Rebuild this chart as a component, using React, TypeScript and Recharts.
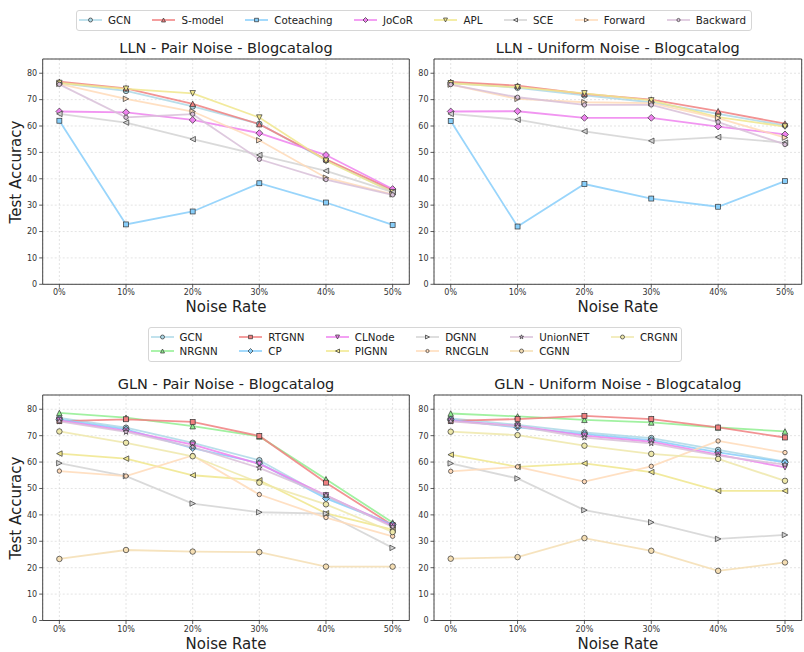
import React from "react";
import { LineChart, Line, XAxis, YAxis, CartesianGrid, ReferenceArea } from "recharts";

// x positions are the noise-rate index, labelled through NOISE_RATES
const NOISE_RATES = ["0%", "10%", "20%", "30%", "40%", "50%"];
const X_TICKS = [0, 1, 2, 3, 4, 5];
const Y_TICKS = [0, 10, 20, 30, 40, 50, 60, 70, 80];
const Y_MAX = 85.4;

// ---- LLN - Pair Noise
const llnPairGCN = [76.3, 73.3, 67.4, 60.8, 47.0, 35.1];
const llnPairSModel = [76.8, 74.3, 68.4, 60.7, 47.4, 35.8];
const llnPairCoteaching = [62.0, 22.7, 27.6, 38.3, 31.0, 22.5];
const llnPairJoCoR = [65.5, 65.2, 62.3, 57.3, 49.0, 36.1];
const llnPairAPL = [76.3, 74.1, 72.4, 63.2, 46.8, 34.9];
const llnPairSCE = [64.6, 61.3, 55.0, 49.0, 43.0, 34.9];
const llnPairForward = [76.0, 70.3, 65.5, 54.6, 40.4, 34.1];
const llnPairBackward = [75.8, 63.3, 64.5, 47.4, 39.7, 33.9];

// ---- LLN - Uniform Noise
const llnUniGCN = [76.3, 74.5, 71.6, 69.0, 64.6, 60.2];
const llnUniSModel = [76.7, 75.3, 72.2, 70.0, 65.6, 60.9];
const llnUniCoteaching = [61.9, 21.9, 38.0, 32.5, 29.4, 39.1];
const llnUniJoCoR = [65.5, 65.6, 63.1, 63.1, 59.8, 56.8];
const llnUniAPL = [76.2, 74.7, 72.4, 69.7, 63.4, 59.8];
const llnUniSCE = [64.6, 62.4, 58.0, 54.4, 55.8, 53.7];
const llnUniForward = [75.7, 70.3, 69.0, 68.7, 63.0, 55.6];
const llnUniBackward = [75.7, 70.9, 68.0, 68.0, 61.5, 53.0];

// ---- GLN - Pair Noise
const glnPairGCN = [76.7, 73.0, 67.3, 60.7, 46.8, 36.3];
const glnPairNRGNN = [78.6, 76.8, 73.6, 69.7, 53.5, 37.1];
const glnPairRTGNN = [75.5, 76.2, 75.2, 69.9, 52.2, 36.1];
const glnPairCP = [76.2, 72.4, 65.3, 59.6, 46.2, 36.3];
const glnPairCLNode = [75.8, 71.8, 66.6, 59.3, 47.4, 35.8];
const glnPairPIGNN = [63.2, 61.3, 55.0, 53.1, 40.6, 34.4];
const glnPairDGNN = [59.6, 54.7, 44.3, 41.0, 40.5, 27.5];
const glnPairRNCGLN = [56.6, 54.7, 62.5, 47.7, 39.0, 31.9];
const glnPairUnionNET = [75.4, 71.4, 65.7, 57.8, 47.4, 35.4];
const glnPairCGNN = [23.3, 26.7, 26.1, 25.9, 20.4, 20.4];
const glnPairCRGNN = [71.6, 67.3, 62.2, 52.2, 44.0, 33.5];

// ---- GLN - Uniform Noise
const glnUniGCN = [76.5, 74.1, 71.2, 69.1, 64.6, 60.2];
const glnUniNRGNN = [78.4, 77.3, 76.0, 75.0, 73.1, 71.6];
const glnUniRTGNN = [75.6, 76.3, 77.5, 76.3, 73.1, 69.3];
const glnUniCP = [76.0, 73.1, 70.6, 68.3, 63.7, 59.9];
const glnUniCLNode = [75.6, 73.7, 70.0, 67.7, 62.8, 58.0];
const glnUniPIGNN = [62.8, 58.2, 59.5, 56.2, 49.1, 49.1];
const glnUniDGNN = [59.5, 53.8, 41.8, 37.2, 30.9, 32.4];
const glnUniRNCGLN = [56.5, 58.2, 52.6, 58.4, 68.0, 63.6];
const glnUniUnionNET = [75.4, 73.5, 69.3, 67.1, 62.4, 59.0];
const glnUniCGNN = [23.4, 24.0, 31.2, 26.4, 18.8, 22.0];
const glnUniCRGNN = [71.5, 70.2, 66.2, 63.1, 61.2, 52.9];

type Shape =
  | "circle"
  | "small"
  | "square"
  | "diamond"
  | "triUp"
  | "triDown"
  | "triLeft"
  | "triRight"
  | "star";

// matplotlib named colours, one marker per method
const METHOD_STYLE: Record<string, { color: string; shape: Shape }> = {
  GCN: { color: "#add8e6", shape: "circle" },
  "S-model": { color: "#f08080", shape: "triUp" },
  Coteaching: { color: "#87cefa", shape: "square" },
  JoCoR: { color: "#ee82ee", shape: "diamond" },
  APL: { color: "#f0e68c", shape: "triDown" },
  SCE: { color: "#d3d3d3", shape: "triLeft" },
  Forward: { color: "#ffdab9", shape: "triRight" },
  Backward: { color: "#d8bfd8", shape: "small" },
  NRGNN: { color: "#90ee90", shape: "triUp" },
  RTGNN: { color: "#f08080", shape: "square" },
  CP: { color: "#87cefa", shape: "diamond" },
  CLNode: { color: "#ee82ee", shape: "triDown" },
  PIGNN: { color: "#f0e68c", shape: "triLeft" },
  DGNN: { color: "#d3d3d3", shape: "triRight" },
  RNCGLN: { color: "#ffdab9", shape: "small" },
  UnionNET: { color: "#d8bfd8", shape: "star" },
  CGNN: { color: "#f5deb3", shape: "circle" },
  CRGNN: { color: "#eee8aa", shape: "circle" },
};

type Series = [string, number[]];

const LLN_PAIR: Series[] = [
  ["GCN", llnPairGCN],
  ["S-model", llnPairSModel],
  ["Coteaching", llnPairCoteaching],
  ["JoCoR", llnPairJoCoR],
  ["APL", llnPairAPL],
  ["SCE", llnPairSCE],
  ["Forward", llnPairForward],
  ["Backward", llnPairBackward],
];
const LLN_UNI: Series[] = [
  ["GCN", llnUniGCN],
  ["S-model", llnUniSModel],
  ["Coteaching", llnUniCoteaching],
  ["JoCoR", llnUniJoCoR],
  ["APL", llnUniAPL],
  ["SCE", llnUniSCE],
  ["Forward", llnUniForward],
  ["Backward", llnUniBackward],
];
const GLN_PAIR: Series[] = [
  ["GCN", glnPairGCN],
  ["NRGNN", glnPairNRGNN],
  ["RTGNN", glnPairRTGNN],
  ["CP", glnPairCP],
  ["CLNode", glnPairCLNode],
  ["PIGNN", glnPairPIGNN],
  ["DGNN", glnPairDGNN],
  ["RNCGLN", glnPairRNCGLN],
  ["UnionNET", glnPairUnionNET],
  ["CGNN", glnPairCGNN],
  ["CRGNN", glnPairCRGNN],
];
const GLN_UNI: Series[] = [
  ["GCN", glnUniGCN],
  ["NRGNN", glnUniNRGNN],
  ["RTGNN", glnUniRTGNN],
  ["CP", glnUniCP],
  ["CLNode", glnUniCLNode],
  ["PIGNN", glnUniPIGNN],
  ["DGNN", glnUniDGNN],
  ["RNCGLN", glnUniRNCGLN],
  ["UnionNET", glnUniUnionNET],
  ["CGNN", glnUniCGNN],
  ["CRGNN", glnUniCRGNN],
];

const FONT = "'DejaVu Sans', sans-serif";
const EDGE = "#333";
const TEXT = "#222";

function Glyph({ shape, cx, cy, s, fill }: { shape: Shape; cx: number; cy: number; s: number; fill: string }) {
  const h = s / 2;
  const common = { fill, stroke: EDGE, strokeWidth: 0.7 };
  switch (shape) {
    case "circle":
      return <circle cx={cx} cy={cy} r={h} {...common} />;
    case "small":
      return <circle cx={cx} cy={cy} r={h * 0.8} {...common} />;
    case "square":
      return <rect x={cx - h * 0.9} y={cy - h * 0.9} width={s * 0.9} height={s * 0.9} {...common} />;
    case "diamond": {
      const d = h * 1.25;
      return <polygon points={`${cx},${cy - d} ${cx + d},${cy} ${cx},${cy + d} ${cx - d},${cy}`} {...common} />;
    }
    case "triUp":
      return <polygon points={`${cx},${cy - h} ${cx - h},${cy + h} ${cx + h},${cy + h}`} {...common} />;
    case "triDown":
      return <polygon points={`${cx},${cy + h} ${cx - h},${cy - h} ${cx + h},${cy - h}`} {...common} />;
    case "triLeft":
      return <polygon points={`${cx - h},${cy} ${cx + h},${cy - h} ${cx + h},${cy + h}`} {...common} />;
    case "triRight":
      return <polygon points={`${cx + h},${cy} ${cx - h},${cy - h} ${cx - h},${cy + h}`} {...common} />;
    case "star": {
      const pts: string[] = [];
      for (let k = 0; k < 10; k++) {
        const r = k % 2 === 0 ? h * 1.1 : h * 0.45;
        const a = -Math.PI / 2 + (k * Math.PI) / 5;
        pts.push(`${cx + r * Math.cos(a)},${cy + r * Math.sin(a)}`);
      }
      return <polygon points={pts.join(" ")} {...common} />;
    }
  }
  return null;
}

function buildRows(series: Series[]) {
  return X_TICKS.map((i) => {
    const row: Record<string, number> = { x: i };
    series.forEach(([name, vals]) => {
      row[name] = vals[i];
    });
    return row;
  });
}

interface PanelProps {
  title: string;
  series: Series[];
  left: number;
  top: number;
  width: number;
  height: number;
  margin: { top: number; right: number; bottom: number; left: number };
  yWidth: number;
  showYLabel: boolean;
}

function Panel({ title, series, left, top, width, height, margin, yWidth, showYLabel }: PanelProps) {
  const rows = buildRows(series);
  const plotLeft = left + margin.left + yWidth;
  const plotRight = left + width - margin.right;
  const plotTop = top + margin.top;
  const plotBottom = top + height - margin.bottom - 20;
  const cx = (plotLeft + plotRight) / 2;
  return (
    <>
      <div
        style={{
          position: "absolute",
          left: plotLeft - 100,
          width: plotRight - plotLeft + 200,
          top: plotTop - 19,
          textAlign: "center",
          fontSize: 14.5,
          lineHeight: "16px",
          color: TEXT,
        }}
      >
        {title}
      </div>
      <div
        style={{
          position: "absolute",
          left: cx - 100,
          width: 200,
          top: plotBottom + 15,
          textAlign: "center",
          fontSize: 15,
          lineHeight: "16px",
          color: TEXT,
        }}
      >
        Noise Rate
      </div>
      {showYLabel && (
        <div
          style={{
            position: "absolute",
            left: 16 - 100,
            width: 200,
            top: (plotTop + plotBottom) / 2 - 8,
            textAlign: "center",
            fontSize: 15,
            lineHeight: "16px",
            color: TEXT,
            transform: "rotate(-90deg)",
          }}
        >
          Test Accuracy
        </div>
      )}
      <div style={{ position: "absolute", left, top }}>
        <LineChart width={width} height={height} data={rows} margin={margin}>
          <CartesianGrid stroke="#d2d2d2" strokeWidth={0.6} strokeDasharray="2 2" />
          <XAxis
            dataKey="x"
            type="number"
            domain={[-0.25, 5.25]}
            ticks={X_TICKS}
            allowDataOverflow
            tickFormatter={(v) => NOISE_RATES[v] ?? ""}
            axisLine={false}
            tickLine={{ stroke: EDGE, strokeWidth: 0.8 }}
            tickSize={3.5}
            tickMargin={2}
            height={20}
            tick={{ fontSize: 8, fill: "#333" }}
          />
          <YAxis
            type="number"
            domain={[0, Y_MAX]}
            ticks={Y_TICKS}
            allowDataOverflow
            axisLine={false}
            tickLine={{ stroke: EDGE, strokeWidth: 0.8 }}
            tickSize={3.5}
            tickMargin={2}
            width={yWidth}
            tick={{ fontSize: 8, fill: "#333" }}
          />
          {series.map(([name]) => {
            const st = METHOD_STYLE[name];
            return (
              <Line
                key={name}
                type="linear"
                dataKey={name}
                stroke={st.color}
                strokeWidth={1.8}
                strokeOpacity={0.85}
                activeDot={false}
                isAnimationActive={false}
                dot={(p: any) => (
                  <g key={`${name}-${p.index}`}>
                    <Glyph shape={st.shape} cx={p.cx} cy={p.cy} s={5.5} fill={st.color} />
                  </g>
                )}
              />
            );
          })}
          <ReferenceArea
            x1={-0.25}
            x2={5.25}
            y1={0}
            y2={Y_MAX}
            fill="none"
            fillOpacity={0}
            stroke="#444"
            strokeWidth={1}
            ifOverflow="extendDomain"
          />
        </LineChart>
      </div>
    </>
  );
}

function LegendBox({
  names,
  left,
  top,
  width,
  height,
  rows,
}: {
  names: string[];
  left: number;
  top: number;
  width: number;
  height: number;
  rows: number;
}) {
  return (
    <div
      style={{
        position: "absolute",
        left,
        top,
        width,
        height,
        boxSizing: "border-box",
        border: "1px solid #d6d6d6",
        borderRadius: 3,
        background: "#fff",
        paddingLeft: 2,
        paddingTop: rows === 1 ? 1.5 : 2.5,
        display: "grid",
        gridTemplateRows: `repeat(${rows}, 14.3px)`,
        gridAutoFlow: "column",
        columnGap: 21.5,
        justifyContent: "start",
        fontSize: 10.3,
        color: TEXT,
      }}
    >
      {names.map((name) => {
        const st = METHOD_STYLE[name];
        return (
          <div key={name} style={{ display: "flex", alignItems: "center", whiteSpace: "nowrap" }}>
            <svg width={23} height={10} style={{ marginRight: 6 }}>
              <line x1={0} x2={23} y1={5} y2={5} stroke={st.color} strokeWidth={1.8} strokeOpacity={0.85} />
              <Glyph shape={st.shape} cx={11.5} cy={5} s={4} fill={st.color} />
            </svg>
            <span>{name}</span>
          </div>
        );
      })}
    </div>
  );
}

export default function App() {
  const topMargin = { top: 19, right: 10.7, bottom: 5.7, left: 12.7 };
  const topMarginR = { top: 19, right: 2.3, bottom: 5.7, left: 0 };
  const botMargin = { top: 20, right: 10.7, bottom: 4.5, left: 12.7 };
  const botMarginR = { top: 20, right: 2.3, bottom: 4.5, left: 0 };
  return (
    <div
      style={{
        position: "absolute",
        left: 0,
        top: 0,
        width: 804,
        height: 652,
        background: "#fff",
        fontFamily: FONT,
        overflow: "hidden",
      }}
    >
      <LegendBox names={LLN_PAIR.map((s) => s[0])} left={76} top={10} width={676} height={21} rows={1} />
      <Panel
        title="LLN - Pair Noise - Blogcatalog"
        series={LLN_PAIR}
        left={0}
        top={40}
        width={420}
        height={270}
        margin={topMargin}
        yWidth={30}
        showYLabel
      />
      <Panel
        title="LLN - Uniform Noise - Blogcatalog"
        series={LLN_UNI}
        left={410}
        top={40}
        width={394}
        height={270}
        margin={topMarginR}
        yWidth={24}
        showYLabel={false}
      />
      <LegendBox names={GLN_PAIR.map((s) => s[0])} left={147.5} top={326.5} width={534} height={35.5} rows={2} />
      <Panel
        title="GLN - Pair Noise - Blogcatalog"
        series={GLN_PAIR}
        left={0}
        top={375}
        width={420}
        height={270}
        margin={botMargin}
        yWidth={30}
        showYLabel
      />
      <Panel
        title="GLN - Uniform Noise - Blogcatalog"
        series={GLN_UNI}
        left={410}
        top={375}
        width={394}
        height={270}
        margin={botMarginR}
        yWidth={24}
        showYLabel={false}
      />
    </div>
  );
}
